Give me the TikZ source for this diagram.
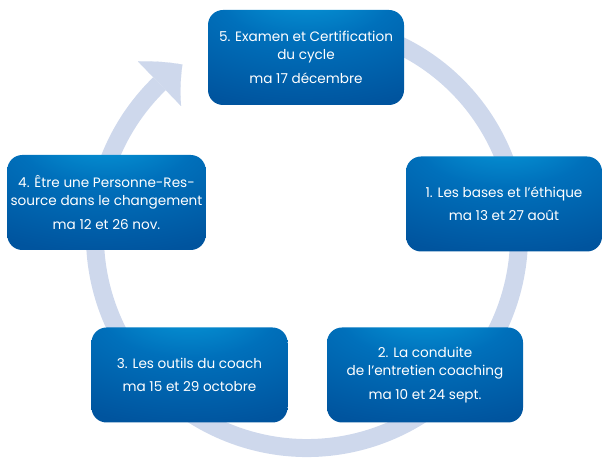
\documentclass[tikz,border=0pt]{standalone}
\usepackage{fontspec}
\setmainfont{Poppins}
\usetikzlibrary{arrows.meta,bending}

\definecolor{boxdark}{RGB}{0,84,158}
\definecolor{boxmid}{RGB}{0,112,187}
\definecolor{boxlight}{RGB}{8,160,222}
\definecolor{ringblue}{RGB}{206,216,236}

\pgfdeclareradialshading{boxglow}{\pgfpoint{0bp}{40bp}}{%
  color(0bp)=(boxlight); color(22bp)=(boxmid); color(48bp)=(boxdark); color(100bp)=(boxdark)}

\begin{document}
\begin{tikzpicture}[
    x=1pt, y=1pt,
    session/.style={rectangle, rounded corners=15pt, shade, shading=boxglow, minimum width=196pt, minimum height=95pt, text=white, align=center, font=\fontsize{13.6}{18}\selectfont},
    ring/.style={draw=ringblue, line width=18pt, -{Triangle[width=62pt, length=30pt, line width=0.1pt, bend]}}
]
    \useasboundingbox (0,0) rectangle (602,462);

    % Cycle ring
    \coordinate (hub) at (307,226);
    \draw[ring] ([shift={(70:212)}]hub) arc[start angle=70, end angle=-234, radius=212];

    % Sessions
    \node[session] (exam) at (306,404.5) {5. Examen et Certification\\du cycle\\[6pt]ma 17 décembre};
    \node[session] (bases) at (504,258) {1. Les bases et l’éthique\\[5pt]ma 13 et 27 août};
    \node[session] (conduite) at (425,87) {2. La conduite\\de l’entretien coaching\\[6pt]ma 10 et 24 sept.};
    \node[session] (outils) at (189.5,87) {3. Les outils du coach\\[5pt]ma 15 et 29 octobre};
    \node[session] (ressource) at (106.5,259.5) {4. Être une Personne-Res-\\source dans le changement\\[6pt]ma 12 et 26 nov.};

\end{tikzpicture}
\end{document}
